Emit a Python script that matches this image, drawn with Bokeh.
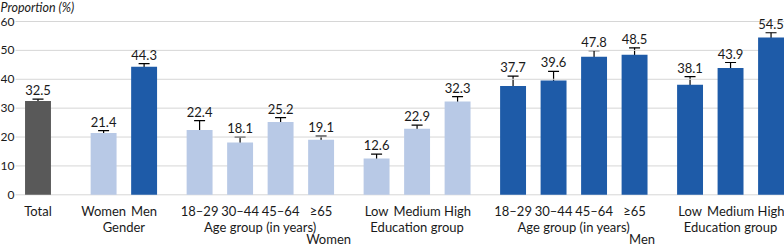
from bokeh.plotting import figure
from bokeh.models import ColumnDataSource, Range1d, Label, Whisker, TeeHead
from bokeh.core.properties import value
from bokeh.embed import file_html
from bokeh.resources import INLINE

# Proportion (%) with 95% confidence intervals
categories = ["Total", "Women", "Men",
              "18\u201329", "30\u201344", "45\u201364", "\u226565", "Low", "Medium", "High",
              "18\u201329", "30\u201344", "45\u201364", "\u226565", "Low", "Medium", "High"]
proportion = [32.5, 21.4, 44.3,
              22.4, 18.1, 25.2, 19.1, 12.6, 22.9, 32.3,
              37.7, 39.6, 47.8, 48.5, 38.1, 43.9, 54.5]
ci_low = [31.9, 20.6, 43.0,
          19.1, 16.0, 23.6, 17.3, 11.1, 21.6, 30.5,
          34.3, 36.8, 45.5, 46.1, 35.4, 42.1, 52.7]
ci_high = [33.1, 22.2, 45.4,
           25.7, 20.0, 26.7, 20.3, 14.1, 24.1, 34.0,
           41.1, 42.7, 49.9, 50.9, 40.9, 45.8, 56.1]
sex = ["Total", "Women", "Men"] + ["Women"] * 7 + ["Men"] * 7
group = (["", "Gender", "Gender"]
         + ["Age group (in years)"] * 4 + ["Education group"] * 3
         + ["Age group (in years)"] * 4 + ["Education group"] * 3)
section = ["", "", ""] + ["Women"] * 7 + ["Men"] * 7
y_ticks = [0, 10, 20, 30, 40, 50, 60]

COLORS = {"Total": "#595959", "Women": "#b8c9e6", "Men": "#1e5ba8"}
FONT = "Lato"
TEXT_COLOR = "#1a1a1a"
FS = "13px"

# slot positions: one unit per bar, extra space between groups
STEP, GAP, FIRST_GAP = 1.0, 0.37, 0.62
xs = []
pos = 0.0
for i in range(len(categories)):
    if i > 0:
        pos += STEP
        if (section[i], group[i]) != (section[i - 1], group[i - 1]):
            pos += FIRST_GAP if i == 1 else GAP
    xs.append(pos)

# the plotting frame spans the whole canvas; the value axis is drawn by hand
WIDTH, HEIGHT = 784, 246
PX_PER_UNIT = 40.5
FIRST_CENTER_PX, GRID_LEFT_PX = 37.5, 15
x_start = -FIRST_CENTER_PX / PX_PER_UNIT
x_end = (WIDTH - FIRST_CENTER_PX) / PX_PER_UNIT
grid_left = x_start + GRID_LEFT_PX / PX_PER_UNIT

TOP_PX, ZERO_PX = 21.0, 194.3
px_per_val = (ZERO_PX - TOP_PX) / 60.0
y_start = -(HEIGHT - ZERO_PX) / px_per_val
y_end = 60 + TOP_PX / px_per_val

src = ColumnDataSource(dict(
    x=xs, cat=categories, val=proportion, lo=ci_low, hi=ci_high,
    color=[COLORS[s] for s in sex],
    lbl=[f"{v:.1f}" for v in proportion],
    zero=[0] * len(xs),
))

p = figure(width=WIDTH, height=HEIGHT, output_backend="svg", toolbar_location=None,
           x_range=Range1d(x_start, x_end), y_range=Range1d(y_start, y_end),
           x_axis_location=None, y_axis_location=None, min_border=0,
           outline_line_color=None)
p.background_fill_color = "white"
p.border_fill_color = "white"
p.grid.visible = False

# horizontal gridlines and tick labels
p.segment(x0=[grid_left] * len(y_ticks), x1=[x_end] * len(y_ticks), y0=y_ticks, y1=y_ticks,
          line_color="#d6d6d6", line_width=1)
p.text(x=[x_start] * len(y_ticks), y=y_ticks, text=[str(t) for t in y_ticks],
       x_offset=14, text_align="right", text_baseline="middle",
       text_font=value(FONT), text_font_size="12px", text_color=TEXT_COLOR)

p.vbar(x="x", top="val", bottom=0, width=0.64, fill_color="color", line_color=None, source=src)

p.add_layout(Whisker(source=src, base="x", lower="lo", upper="hi",
                     line_color="black", line_width=1.2,
                     upper_head=TeeHead(size=11, line_color="black", line_width=1.2),
                     lower_head=TeeHead(size=11, line_color="black", line_width=1.2)))

p.text(x="x", y="hi", text="lbl", source=src, y_offset=-9,
       text_align="center", text_baseline="middle",
       text_font=value(FONT), text_font_size=FS, text_color=TEXT_COLOR)

# category labels below the baseline
p.text(x="x", y="zero", text="cat", source=src, y_offset=16,
       text_align="center", text_baseline="middle",
       text_font=value(FONT), text_font_size=FS, text_color=TEXT_COLOR)

# group labels
seen = []
for sec, grp in zip(section, group):
    if grp and (sec, grp) not in seen:
        seen.append((sec, grp))
gx, gt = [], []
for sec, grp in seen:
    members = [x for x, s, g in zip(xs, section, group) if s == sec and g == grp]
    gx.append(sum(members) / len(members))
    gt.append(grp)
p.text(x=gx, y=[0] * len(gx), text=gt, y_offset=32,
       text_align="center", text_baseline="middle",
       text_font=value(FONT), text_font_size=FS, text_color=TEXT_COLOR)

# section labels
sx, st = [], []
for sec in ["Women", "Men"]:
    members = [x for x, s in zip(xs, section) if s == sec]
    sx.append((min(members) + max(members)) / 2)
    st.append(sec)
p.text(x=sx, y=[0] * len(sx), text=st, y_offset=44,
       text_align="center", text_baseline="middle",
       text_font=value(FONT), text_font_size=FS, text_color=TEXT_COLOR)

p.add_layout(Label(x=0, y=HEIGHT - 7, x_units="screen", y_units="screen",
                   text="Proportion (%)", text_font=FONT, text_font_style="italic",
                   text_font_size="12.5px", text_color=TEXT_COLOR,
                   text_baseline="middle", text_align="left"))

open("out.html", "w").write(file_html(p, INLINE))
